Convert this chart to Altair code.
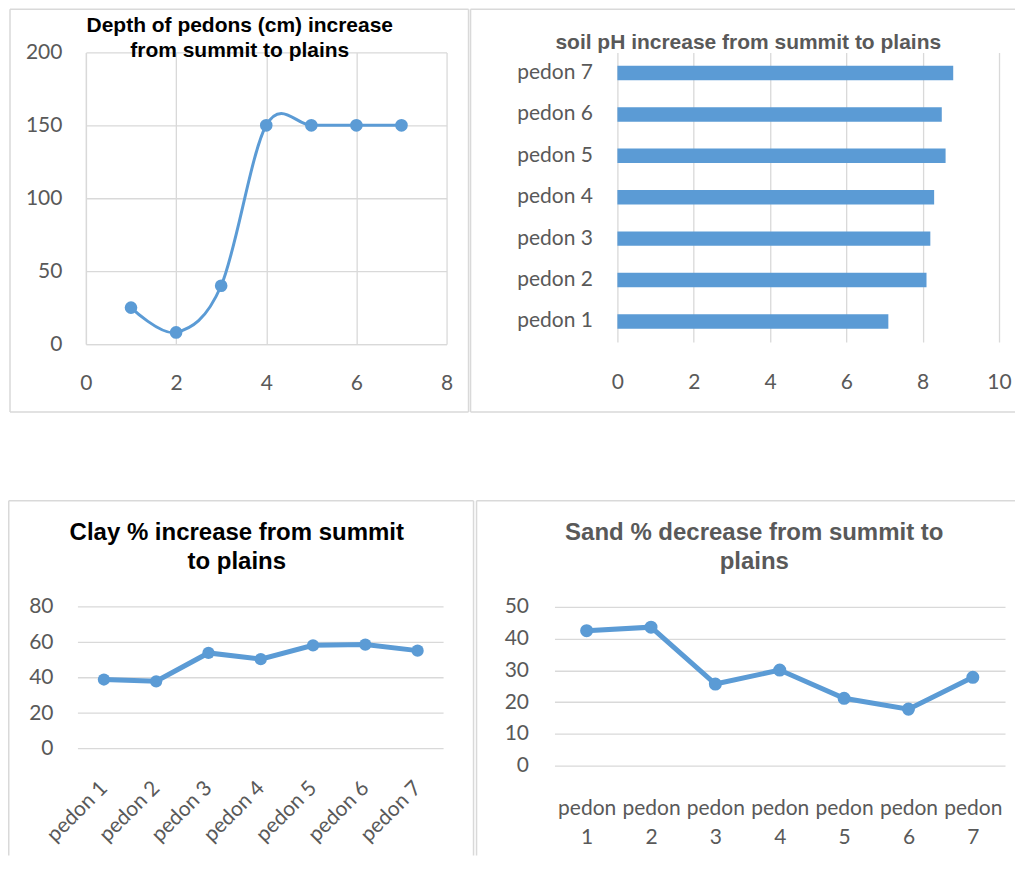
import altair as alt
import pandas as pd

# ---------------- data ----------------
pedons = ["pedon 1", "pedon 2", "pedon 3", "pedon 4", "pedon 5", "pedon 6", "pedon 7"]
pedon_numbers = [1, 2, 3, 4, 5, 6, 7]
depth_cm = [25, 8, 40, 150, 150, 150, 150]
soil_ph = [7.1, 8.1, 8.2, 8.3, 8.6, 8.5, 8.8]
clay_pct = [39, 38, 54, 50.5, 58.3, 58.7, 55.3]
sand_pct = [42.5, 43.6, 25.7, 30.1, 21.2, 17.8, 27.8]

depth_ticks = [0, 2, 4, 6, 8]
depth_yticks = [0, 50, 100, 150, 200]
ph_ticks = [0, 2, 4, 6, 8, 10]
clay_ticks = [0, 20, 40, 60, 80]
sand_ticks = [0, 10, 20, 30, 40, 50]

titles = {
    "depth": ["Depth of pedons (cm) increase", "from summit to plains"],
    "ph": ["soil pH increase from summit to plains"],
    "clay": ["Clay % increase from summit", "to plains"],
    "sand": ["Sand % decrease from summit to", "plains"],
}

# ---------------- style ----------------
BLUE = "#5B9BD5"
GRID = "#D9D9D9"
LABEL = "#595959"
FONT = "Lato"
TFONT = "Liberation Sans"
LFS = 21

one = pd.DataFrame({"k": [0]})


def frame(extent, rules):
    x1, x2, y1, y2 = extent
    layers = [
        alt.Chart(one).mark_rect(opacity=0).encode(
            x=alt.value(x1), x2=alt.value(x2), y=alt.value(y1), y2=alt.value(y2)
        )
    ]
    for xa, xb, ya, yb in rules:
        layers.append(
            alt.Chart(one).mark_rule(color=GRID, strokeWidth=1.5).encode(
                x=alt.value(xa), x2=alt.value(xb), y=alt.value(ya), y2=alt.value(yb)
            )
        )
    return layers


def title_layer(lines, cx, cy, size, color, lh):
    df = pd.DataFrame({"t": ["\n".join(lines)]})
    return alt.Chart(df).mark_text(
        font=TFONT, fontSize=size, fontWeight="bold", color=color,
        lineBreak="\n", lineHeight=lh, align="center", baseline="middle",
    ).encode(x=alt.value(cx), y=alt.value(cy), text="t:N")


def axis(**kw):
    base = dict(
        title=None, ticks=False, labelFont=FONT, labelFontSize=LFS,
        labelColor=LABEL, gridColor=GRID, gridWidth=1.3, domainColor=GRID,
        domainWidth=1.3,
    )
    base.update(kw)
    return alt.Axis(**base)


# ---------------- panel 1: depth ----------------
df1 = pd.DataFrame({"n": pedon_numbers, "depth": depth_cm})
b1 = alt.Chart(df1).encode(
    x=alt.X("n:Q", scale=alt.Scale(domain=[0, 8], nice=False),
            axis=axis(values=depth_ticks, grid=True, domain=True, labelPadding=39,
                      labelBaseline="middle", labelFlush=False)),
    y=alt.Y("depth:Q", scale=alt.Scale(domain=[0, 200], nice=False),
            axis=axis(values=depth_yticks, grid=True, domain=True, labelPadding=24)),
)
p1 = alt.layer(
    *frame((-78, 384, -44, 448),
           [(-76, 383, -43.25, -43.25), (-76, 383, 360, 360),
            (-76, -76, -43.25, 360), (383, 383, -43.25, 360)]),
    b1.mark_line(color=BLUE, strokeWidth=3, interpolate="cardinal"),
    b1.mark_circle(color=BLUE, size=160, opacity=1),
    title_layer(titles["depth"], 154, -26, 21, "#000000", 25),
).properties(width=361, height=292)

# ---------------- panel 2: soil pH ----------------
df2 = pd.DataFrame({"pedon": pedons, "ph": soil_ph})
b2 = alt.Chart(df2).mark_bar(color=BLUE).encode(
    x=alt.X("ph:Q", scale=alt.Scale(domain=[0, 10], nice=False),
            axis=axis(values=ph_ticks, grid=True, domain=False, labelPadding=40,
                      labelBaseline="middle", labelFlush=False)),
    y=alt.Y("pedon:N", sort=pedons[::-1],
            scale=alt.Scale(paddingInner=0.65, paddingOuter=0.325),
            axis=axis(grid=False, domain=False, labelPadding=25)),
)
p2 = alt.layer(
    *frame((-148, 398, -44, 448),
           [(-147, 398, -43.25, -43.25), (-147, 398, 360, 360),
            (-147, -147, -43.25, 360)]),
    b2,
    title_layer(titles["ph"], 131, -9, 21, LABEL, 25),
).properties(width=382, height=290)

# ---------------- panel 3: clay ----------------
df3 = pd.DataFrame({"pedon": pedons, "clay": clay_pct})
clay_scale = alt.Scale(domain=[0, 80], nice=False)
clay_axis = axis(values=clay_ticks, grid=False, domain=False, labelPadding=33)
b3 = alt.Chart(df3).encode(
    x=alt.X("pedon:N", sort=pedons,
            scale=alt.Scale(type="point", range=[18, 332], padding=0),
            axis=axis(grid=False, domain=False, labelAngle=-45, labelAlign="right",
                      labelBaseline="middle", labelPadding=36, labelOverlap=False)),
    y=alt.Y("clay:Q", scale=clay_scale, axis=clay_axis),
)
grid3 = alt.Chart(pd.DataFrame({"v": clay_ticks})).mark_rule(
    color=GRID, strokeWidth=1.3
).encode(y=alt.Y("v:Q", scale=clay_scale, axis=clay_axis),
         x=alt.value(-8), x2=alt.value(358))
p3 = alt.layer(
    *frame((-78, 389, -107, 249),
           [(-77.25, 388, -106.25, -106.25), (-77.25, -77.25, -106.25, 249),
            (388, 388, -106.25, 249)]),
    grid3,
    b3.mark_line(color=BLUE, strokeWidth=5),
    b3.mark_circle(color=BLUE, size=150, opacity=1),
    title_layer(titles["clay"], 151, -74, 24, "#000000", 29),
).properties(width=358, height=142)

# ---------------- panel 4: sand ----------------
df4 = pd.DataFrame({"pedon": pedons, "sand": sand_pct})
b4 = alt.Chart(df4).encode(
    x=alt.X("pedon:N", sort=pedons, scale=alt.Scale(type="point", padding=0.5),
            axis=axis(grid=False, domain=False, labelAngle=0, labelAlign="center",
                      labelBaseline="middle", labelPadding=42.5, labelLineHeight=29,
                      labelExpr="split(datum.label, ' ')", labelOverlap=False)),
    y=alt.Y("sand:Q", scale=alt.Scale(domain=[0, 50], nice=False),
            axis=axis(values=sand_ticks, grid=True, domain=False, labelPadding=26)),
)
p4 = alt.layer(
    *frame((-80, 461, -107, 249),
           [(-78, 461, -106.25, -106.25), (-78, -78, -106.25, 249)]),
    b4.mark_line(color=BLUE, strokeWidth=5),
    b4.mark_circle(color=BLUE, size=170, opacity=1),
    title_layer(titles["sand"], 200, -74, 24, LABEL, 29),
).properties(width=451, height=159)

row1 = alt.hconcat(p1, p2, spacing=0, bounds="full")
row2 = alt.hconcat(p3, p4, spacing=0, bounds="full")
chart = (
    alt.vconcat(row1, row2, spacing=0, bounds="full")
    .properties(padding=0)
    .configure_view(stroke=None)
)

chart.save("out.html", embed_options={"renderer": "svg", "actions": False})
